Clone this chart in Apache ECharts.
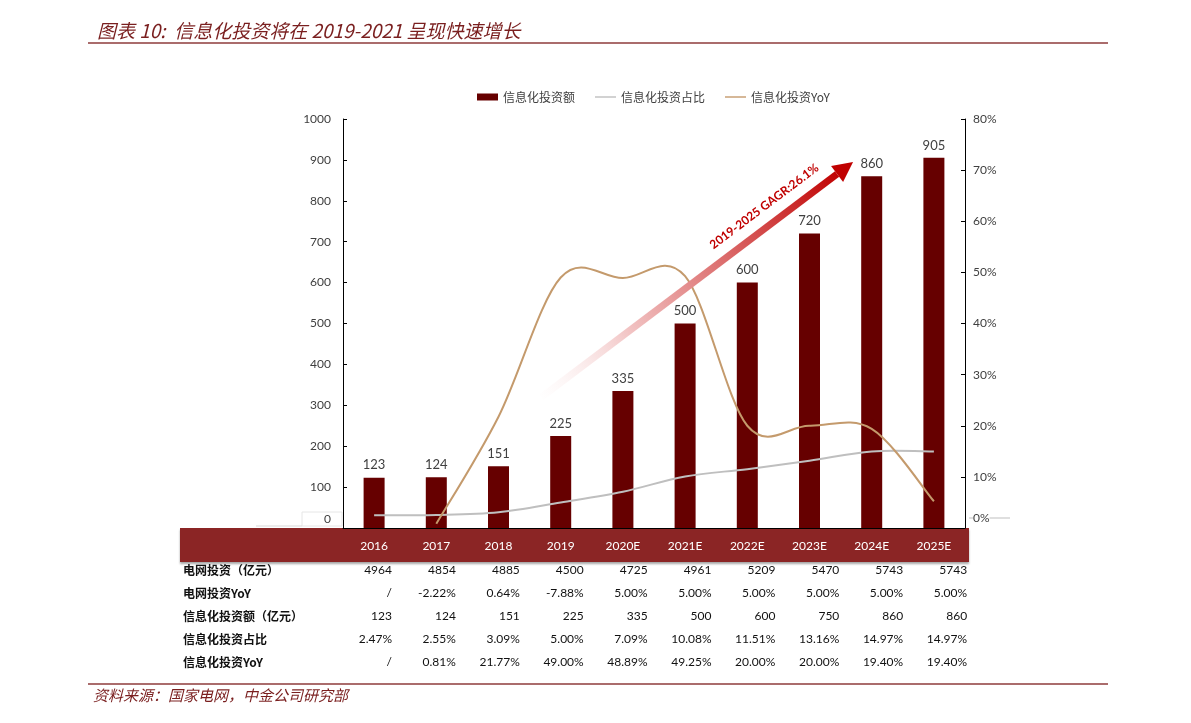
<!DOCTYPE html>
<html>
<head>
<meta charset="utf-8">
<title>信息化投资</title>
<script src="https://cdn.jsdelivr.net/npm/echarts@6/dist/echarts.min.js"></script>
<style>
  html, body { margin: 0; padding: 0; background: #fff; }
  #chart { width: 1191px; height: 723px; }
</style>
</head>
<body>
<div id="chart"></div>
<script>
// categories and chart values
const years = ['2016', '2017', '2018', '2019', '2020E', '2021E', '2022E', '2023E', '2024E', '2025E']
const investAmount = [123, 124, 151, 225, 335, 500, 600, 720, 860, 905]
const investShare = [2.47, 2.55, 3.09, 5.0, 7.09, 10.08, 11.51, 13.16, 14.97, 14.97]
const investYoy = [null, 0.81, 21.77, 49.0, 48.89, 49.25, 20.0, 20.0, 19.4, 5.23]

// table rows under the chart
const rowNames = ['电网投资（亿元）', '电网投资YoY', '信息化投资额（亿元）', '信息化投资占比', '信息化投资YoY']
const gridInvest = ['4964', '4854', '4885', '4500', '4725', '4961', '5209', '5470', '5743', '5743']
const gridYoy = ['/', '-2.22%', '0.64%', '-7.88%', '5.00%', '5.00%', '5.00%', '5.00%', '5.00%', '5.00%']
const infoInvest = ['123', '124', '151', '225', '335', '500', '600', '750', '860', '860']
const infoShare = ['2.47%', '2.55%', '3.09%', '5.00%', '7.09%', '10.08%', '11.51%', '13.16%', '14.97%', '14.97%']
const infoYoy = ['/', '0.81%', '21.77%', '49.00%', '48.89%', '49.25%', '20.00%', '20.00%', '19.40%', '19.40%']
const tableRows = [gridInvest, gridYoy, infoInvest, infoShare, infoYoy]

const titleText = '图表 10:  信息化投资将在 2019-2021 呈现快速增长'
const sourceText = '资料来源：国家电网，中金公司研究部'
const gagrText = '2019-2025 GAGR:26.1%'

const darkRed = '#660000'
const bandRed = '#8B2525'
const titleRed = '#7A1F1F'
const grayLine = '#BFBFBF'
const tanLine = '#C49A6C'
const numFont = 'Lato, "Noto Sans", sans-serif'
const cjkFont = '"Noto Sans CJK SC", sans-serif'

const toPoints = (arr) => arr.map((v, i) => [i, v]).filter((p) => p[1] != null)

// Excel-like smoothed line (Catmull-Rom through every point)
const smoothPath = (color) => (params, api) => {
  if (params.dataIndex !== 0) return null
  const n = params.dataInsideLength
  const pts = []
  for (let k = 0; k < n; k++) {
    pts.push(api.coord([api.value(0, k), api.value(1, k)]))
  }
  let d = 'M' + pts[0][0] + ',' + pts[0][1]
  for (let k = 0; k < pts.length - 1; k++) {
    const a = pts[k - 1] || pts[k]
    const b = pts[k]
    const c = pts[k + 1]
    const e = pts[k + 2] || c
    const c1 = [b[0] + (c[0] - a[0]) / 6, b[1] + (c[1] - a[1]) / 6]
    const c2 = [c[0] - (e[0] - b[0]) / 6, c[1] - (e[1] - b[1]) / 6]
    d += ' C' + c1[0] + ',' + c1[1] + ' ' + c2[0] + ',' + c2[1] + ' ' + c[0] + ',' + c[1]
  }
  return {
    type: 'path',
    shape: { pathData: d },
    style: { stroke: color, fill: 'none', lineWidth: 2 },
  }
}

const chart = echarts.init(document.getElementById('chart'))

// table + frame graphics
const tableGraphics = []
tableGraphics.push({
  type: 'rect', z: 0,
  shape: { x: 180, y: 528, width: 789, height: 34 },
  style: { fill: bandRed, shadowColor: 'rgba(0,0,0,0.35)', shadowOffsetY: 2, shadowBlur: 2 },
})
rowNames.forEach((name, r) => {
  const y = 570 + r * 23
  tableGraphics.push({
    type: 'text', z: 10, x: 183, y: y,
    style: { text: name, font: 'bold 12px ' + cjkFont, fill: '#111', textVerticalAlign: 'middle' },
  })
  tableRows[r].forEach((v, i) => {
    tableGraphics.push({
      type: 'text', z: 10, x: 392 + i * 63.9, y: y,
      style: { text: v, font: '12px ' + numFont, fill: '#111', textAlign: 'right', textVerticalAlign: 'middle' },
    })
  })
})

const lineIcon = 'path://M0,0H30V2H0Z'

const option = {
  animation: false,
  backgroundColor: '#fff',
  title: {
    text: titleText,
    left: 92,
    top: 16,
    textStyle: { fontFamily: cjkFont, fontStyle: 'italic', fontWeight: 'normal', fontSize: 19, color: titleRed },
  },
  legend: {
    left: 472,
    top: 86,
    itemGap: 20,
    itemWidth: 21,
    itemHeight: 7,
    textStyle: { fontFamily: cjkFont, fontSize: 12, color: '#404040' },
    data: [
      { name: '信息化投资额', icon: 'rect' },
      { name: '信息化投资占比', icon: lineIcon },
      { name: '信息化投资YoY', icon: lineIcon },
    ],
  },
  grid: {
    left: 343,
    right: 226,
    top: 119,
    bottom: 195,
    containLabel: false,
  },
  xAxis: {
    type: 'category',
    data: years,
    z: 20,
    axisLine: { lineStyle: { color: '#000', width: 1 } },
    axisTick: { show: false },
    axisLabel: { color: '#fff', fontFamily: numFont, fontSize: 12, margin: 12 },
  },
  yAxis: [
    {
      type: 'value',
      min: 0,
      max: 1000,
      interval: 100,
      splitLine: { show: false },
      axisLine: { show: true, lineStyle: { color: '#000' } },
      axisTick: { show: true, inside: true, length: 4, lineStyle: { color: '#000' } },
      axisLabel: {
        color: '#404040', fontFamily: numFont, fontSize: 12, margin: 12,
        formatter: (v) => (v === 0 ? '' : v),
      },
    },
    {
      type: 'value',
      min: 0,
      max: 80,
      interval: 10,
      splitLine: { show: false },
      axisLine: { show: true, lineStyle: { color: '#000' } },
      axisTick: { show: true, inside: true, length: 4, lineStyle: { color: '#000' } },
      axisLabel: {
        color: '#404040', fontFamily: numFont, fontSize: 12, margin: 8,
        formatter: (v) => (v === 0 ? '' : v + '%'),
      },
    },
  ],
  series: [
    {
      name: '信息化投资额',
      type: 'bar',
      data: investAmount,
      barWidth: 21,
      itemStyle: { color: darkRed },
      label: {
        show: true, position: 'top', distance: 6,
        color: '#404040', fontFamily: numFont, fontSize: 13,
      },
    },
    {
      name: '信息化投资占比',
      type: 'custom',
      yAxisIndex: 1,
      data: toPoints(investShare),
      encode: { x: 0, y: 1 },
      itemStyle: { color: grayLine },
      renderItem: smoothPath(grayLine),
      z: 4,
    },
    {
      name: '信息化投资YoY',
      type: 'custom',
      yAxisIndex: 1,
      data: toPoints(investYoy),
      encode: { x: 0, y: 1 },
      itemStyle: { color: tanLine },
      renderItem: smoothPath(tanLine),
      z: 5,
    },
  ],
  graphic: tableGraphics,
}

chart.setOption(option)

// decorations placed from the axes
const xAt = (f) => {
  const i = Math.floor(f)
  const a = chart.convertToPixel({ xAxisIndex: 0 }, i)
  const b = chart.convertToPixel({ xAxisIndex: 0 }, i + 1)
  return a + (b - a) * (f - i)
}
const yAt = (v) => chart.convertToPixel({ yAxisIndex: 0 }, v)

const p0 = [xAt(2.69), yAt(320)]
const p1 = [xAt(7.7), yAt(895)]
const dx = p1[0] - p0[0]
const dy = p1[1] - p0[1]
const len = Math.sqrt(dx * dx + dy * dy)
const ux = dx / len
const uy = dy / len
const headLen = 20
const headHalf = 10
const base = [p1[0] - ux * headLen, p1[1] - uy * headLen]
const angle = Math.atan2(-dy, dx)
const mid = [p0[0] + dx * 0.75 + 18 * uy, p0[1] + dy * 0.75 - 18 * ux]
const zeroLeft = yAt(0)

chart.setOption({
  graphic: tableGraphics.concat([
    {
      type: 'line', z: 30,
      shape: { x1: p0[0], y1: p0[1], x2: base[0], y2: base[1] },
      style: {
        lineWidth: 7,
        stroke: {
          type: 'linear', x: 0, y: 1, x2: 1, y2: 0,
          colorStops: [
            { offset: 0, color: 'rgba(255,255,255,0.3)' },
            { offset: 0.3, color: '#F2C4C4' },
            { offset: 1, color: '#C00000' },
          ],
        },
      },
    },
    {
      type: 'polygon', z: 30,
      shape: {
        points: [
          [p1[0], p1[1]],
          [base[0] - uy * headHalf, base[1] + ux * headHalf],
          [base[0] + uy * headHalf, base[1] - ux * headHalf],
        ],
      },
      style: { fill: '#C00000' },
    },
    {
      type: 'text', z: 31,
      x: mid[0], y: mid[1],
      rotation: angle,
      style: {
        text: gagrText, font: 'bold 12px ' + numFont, fill: '#C00000',
        textAlign: 'center', textVerticalAlign: 'middle',
      },
    },
    {
      type: 'rect', z: 8,
      shape: { x: 302, y: zeroLeft - 16, width: 40, height: 14 },
      style: { fill: '#fff', stroke: '#E6E6E6', lineWidth: 1 },
    },
    {
      type: 'line', z: 8,
      shape: { x1: 256, y1: zeroLeft - 2, x2: 302, y2: zeroLeft - 2 },
      style: { stroke: '#D9D9D9', lineWidth: 1 },
    },
    {
      type: 'text', z: 9, x: 331, y: zeroLeft - 9,
      style: { text: '0', font: '12px ' + numFont, fill: '#404040', textAlign: 'right', textVerticalAlign: 'middle' },
    },
    {
      type: 'line', z: 8,
      shape: { x1: 969, y1: zeroLeft - 10, x2: 1010, y2: zeroLeft - 10 },
      style: { stroke: grayLine, lineWidth: 1 },
    },
    {
      type: 'text', z: 9, x: 973, y: zeroLeft - 10,
      style: { text: '0%', font: '12px ' + numFont, fill: '#404040', textVerticalAlign: 'middle', backgroundColor: '#fff' },
    },
    {
      type: 'line', z: 1,
      shape: { x1: 88, y1: 43, x2: 1108, y2: 43 },
      style: { stroke: '#8E3B3B', lineWidth: 1.5 },
    },
    {
      type: 'line', z: 1,
      shape: { x1: 88, y1: 684, x2: 1108, y2: 684 },
      style: { stroke: '#8E3B3B', lineWidth: 1.5 },
    },
    {
      type: 'text', z: 1, x: 93, y: 695,
      style: { text: sourceText, font: 'italic 15px ' + cjkFont, fill: titleRed, textVerticalAlign: 'middle' },
    },
  ]),
})

window.addEventListener('resize', () => chart.resize())
</script>
</body>
</html>
